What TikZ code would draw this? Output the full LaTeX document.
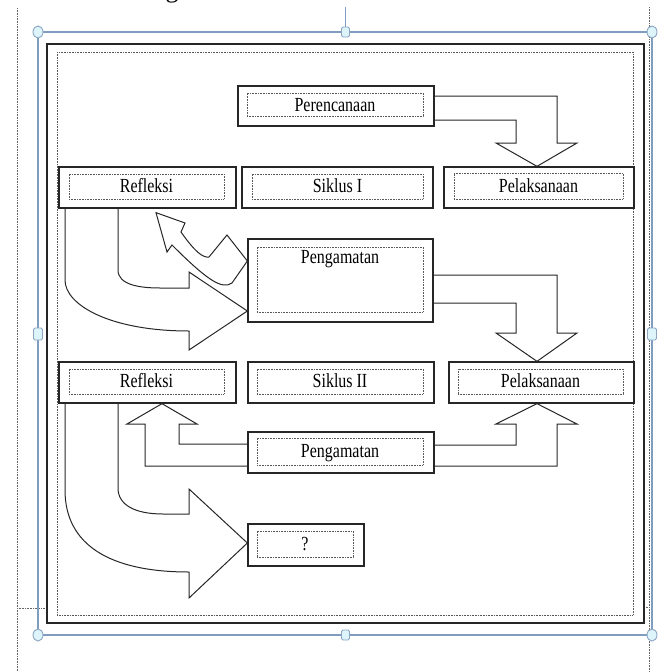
\documentclass[tikz,border=0pt]{standalone}
\usepackage{fontspec}
\setmainfont{Liberation Serif}
\newfontfamily\condfont[FakeStretch=0.8]{Liberation Serif}
\definecolor{selblue}{RGB}{128,156,190}
\definecolor{hndfill}{RGB}{220,244,250}
\definecolor{hnddraw}{RGB}{140,165,192}
\tikzset{
  obox/.style={draw=black!85, line width=1.3pt, fill=white, inner sep=0pt},
  ibox/.style={draw=black!65, line width=0.9pt, dash pattern=on 0.8pt off 0.8pt, inner sep=0pt},
  lbl/.style={font=\condfont\fontsize{20}{23}\selectfont, anchor=base, inner sep=0pt},
  blockarrow/.style={draw=black!85, line width=1pt, line join=miter},
  pagedot/.style={draw=black!60, line width=0.8pt, dash pattern=on 0.8pt off 0.8pt},
  selframe/.style={draw=selblue, line width=1.3pt},
  hnd/.style={draw=hnddraw, fill=hndfill, line width=0.9pt}
}
\begin{document}
\begin{tikzpicture}[x=1pt,y=-1pt]
\useasboundingbox (0,0) rectangle (660,672);
% fragment of text above
\node[font=\fontsize{26}{30}\selectfont, anchor=base, inner sep=0pt] (gfrag) at (172,-2.5) {g};
% page margin marks
\draw[pagedot] (17,8) -- (17,672);
\draw[pagedot] (17,608) -- (47,608);
\draw[pagedot] (649,7) -- (649,672);
\draw[pagedot] (644,607) -- (649,607);
% selection frame
\draw[selframe] (38,32) rectangle (652,635);
\draw[draw=selblue, line width=1pt] (345.5,7) -- (345.5,27);
% outer black frame and dotted inner frame
\draw[draw=black!85, line width=1.3pt] (47,44) rectangle (644,623);
\draw[ibox] (57,52) rectangle (633,615);
% boxes
\node[obox, minimum width=196pt, minimum height=40pt] (per) at (336,106) {};
\node[ibox, minimum width=176pt, minimum height=23pt] (per-i) at (335,104.5) {};
\node[lbl] (per-t) at (335,111) {Perencanaan};

\node[obox, minimum width=177pt, minimum height=41pt] (ref1) at (147.5,187.5) {};
\node[ibox, minimum width=155pt, minimum height=25pt] (ref1-i) at (146.5,186.5) {};
\node[lbl] (ref1-t) at (146.5,192.5) {Refleksi};

\node[obox, minimum width=191pt, minimum height=41pt] (sik1) at (337.5,187.5) {};
\node[ibox, minimum width=171pt, minimum height=25pt] (sik1-i) at (337.5,186.5) {};
\node[lbl] (sik1-t) at (337.5,192.5) {Siklus I};

\node[obox, minimum width=190pt, minimum height=41pt] (pel1) at (539,187.5) {};
\node[ibox, minimum width=169pt, minimum height=26pt] (pel1-i) at (538.5,186) {};
\node[lbl] (pel1-t) at (538.5,192.5) {Pelaksanaan};

\node[obox, minimum width=185pt, minimum height=83pt] (pen1) at (340.5,280.5) {};
\node[ibox, minimum width=166pt, minimum height=65pt] (pen1-i) at (340,279.5) {};
\node[lbl] (pen1-t) at (340,263) {Pengamatan};

\node[obox, minimum width=177pt, minimum height=41pt] (ref2) at (147.5,382.5) {};
\node[ibox, minimum width=155pt, minimum height=25pt] (ref2-i) at (146.5,381.5) {};
\node[lbl] (ref2-t) at (146.5,387.5) {Refleksi};

\node[obox, minimum width=186pt, minimum height=41pt] (sik2) at (341,382.5) {};
\node[ibox, minimum width=166pt, minimum height=25pt] (sik2-i) at (340,381.5) {};
\node[lbl] (sik2-t) at (340,387.5) {Siklus II};

\node[obox, minimum width=185pt, minimum height=41pt] (pel2) at (541.5,382.5) {};
\node[ibox, minimum width=165pt, minimum height=25pt] (pel2-i) at (540.5,381.5) {};
\node[lbl] (pel2-t) at (540.5,387.5) {Pelaksanaan};

\node[obox, minimum width=186pt, minimum height=41pt] (pen2) at (341,452.5) {};
\node[ibox, minimum width=166pt, minimum height=27pt] (pen2-i) at (340,451.5) {};
\node[lbl] (pen2-t) at (340,457.5) {Pengamatan};

\node[obox, minimum width=116pt, minimum height=42pt] (q) at (306,545) {};
\node[ibox, minimum width=96pt, minimum height=26pt] (q-i) at (305,544) {};
\node[lbl] (q-t) at (305,550) {?};

% block arrow: Perencanaan -> Pelaksanaan I
\draw[blockarrow] (per.east |- 0,96) -- (557,96) -- (557,143) -- (577,143) -- (pel1.north -| 537,0)
  -- (496,143) -- (516,143) -- (516,120) -- (per.east |- 0,120);
% block arrow: Pengamatan I -> Pelaksanaan II
\draw[blockarrow] (pen1.east |- 0,275) -- (557,275) -- (557,333) -- (577,333) -- (pel2.north -| 537,0)
  -- (496,333) -- (516,333) -- (516,303) -- (pen1.east |- 0,303);
% block arrow: Pengamatan II -> Refleksi II
\draw[blockarrow] (pen2.west |- 0,444) -- (179,444) -- (179,424) -- (197,424) -- (ref2.south -| 162,0)
  -- (127,424) -- (145,424) -- (145,466) -- (pen2.west |- 0,466);
% block arrow: Pengamatan II -> Pelaksanaan II
\draw[blockarrow] (pen2.east |- 0,445) -- (516,445) -- (516,424) -- (496,424) -- (pel2.south -| 537,0)
  -- (577,424) -- (557,424) -- (557,466) -- (pen2.east |- 0,466);
% curved arrow: Refleksi I -> Pengamatan I
\draw[blockarrow] (ref1.south -| 65,0) -- (65,280) .. controls (65,305) and (110,331) .. (189,331)
  -- (189,350) -- (pen1.west |- 0,311) -- (189,272) -- (189,288) -- (160,288)
  .. controls (140,288) and (118,285) .. (118,270) -- (ref1.south -| 118,0);
% small curved arrow: Pengamatan I -> Refleksi I
\draw[blockarrow] (ref1.south -| 156,0) ++(0,4) coordinate (tipA)
  -- (185,223) -- (181,232) .. controls (195,252) and (203,258) .. (209,257)
  -- (227,235) -- (pen1.west |- 0,261) -- (232,283) .. controls (222,290) and (207,280) .. (172,245)
  -- (167,252) -- cycle;
% curved arrow: Refleksi II -> ?
\draw[blockarrow] (ref2.south -| 65,0) -- (65,490) .. controls (65,545) and (110,572) .. (189,572)
  -- (189,598) -- (q.west |- 0,543) -- (189,489) -- (189,514) -- (163,514)
  .. controls (135,514) and (118,505) .. (118,488) -- (ref2.south -| 118,0);
% handles of the selection frame
\draw[hnd] (38,32) ellipse [x radius=5, y radius=6];
\draw[hnd] (652,32) ellipse [x radius=5, y radius=6];
\draw[hnd] (38,635) ellipse [x radius=5, y radius=6];
\draw[hnd] (652,635) ellipse [x radius=5, y radius=6];
\draw[hnd, rounded corners=1.5pt] (341.5,27) rectangle (349.5,37);
\draw[hnd, rounded corners=1.5pt] (341.5,630) rectangle (349.5,640);
\draw[hnd, rounded corners=1.5pt] (33.5,328) rectangle (42.5,340);
\draw[hnd, rounded corners=1.5pt] (647.5,328) rectangle (656.5,340);
\end{tikzpicture}
\end{document}
